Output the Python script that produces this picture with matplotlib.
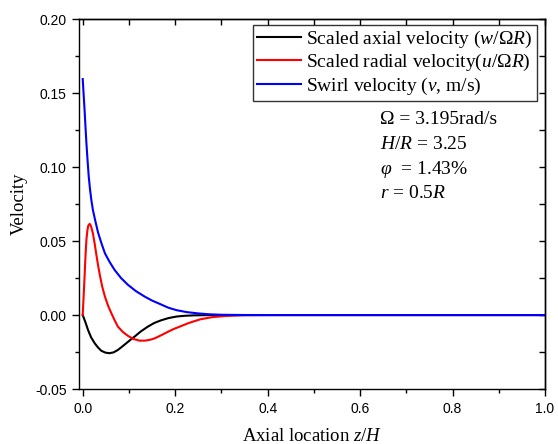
import matplotlib
matplotlib.use("Agg")
import matplotlib.pyplot as plt
from matplotlib.ticker import MultipleLocator, FuncFormatter, NullFormatter

# ---- data ----
z_axial = [0, 0.006, 0.0115, 0.018, 0.026, 0.033, 0.040, 0.049, 0.058, 0.067, 0.076,
           0.085, 0.094, 0.103, 0.112, 0.126, 0.141, 0.155, 0.170, 0.186, 0.203, 0.22,
           0.24, 0.27, 0.3, 0.4, 1.0]
v_axial = [0, -0.0050, -0.0101, -0.0150, -0.0191, -0.0219, -0.0241, -0.0254, -0.0258,
           -0.0252, -0.0236, -0.0214, -0.0191, -0.0168, -0.0146, -0.0110, -0.0078,
           -0.0053, -0.0035, -0.0020, -0.0010, -0.0005, -0.0002, -0.00005, 0, 0, 0]

z_radial = [0, 0.002, 0.004, 0.006, 0.008, 0.010, 0.012, 0.015, 0.018, 0.022, 0.026,
            0.029, 0.033, 0.037, 0.042, 0.048, 0.055, 0.062, 0.069, 0.076, 0.087, 0.098,
            0.110, 0.123, 0.135, 0.147, 0.156, 0.170, 0.185, 0.197, 0.21, 0.23, 0.254,
            0.28, 0.31, 0.35, 0.4, 1.0]
v_radial = [0, 0.013, 0.026, 0.040, 0.051, 0.057, 0.0605, 0.0617, 0.0600, 0.0553,
            0.0480, 0.0418, 0.0340, 0.0271, 0.0195, 0.0125, 0.0062, 0.0012, -0.0035,
            -0.0078, -0.0115, -0.0141, -0.0162, -0.0173, -0.0173, -0.0166, -0.0157,
            -0.0136, -0.0112, -0.0094, -0.0078, -0.0053, -0.0029, -0.0014, -0.0006,
            -0.0001, 0, 0]

z_swirl = [0, 0.002, 0.004, 0.006, 0.008, 0.0105, 0.013, 0.0158, 0.0186, 0.022, 0.027,
           0.033, 0.040, 0.048, 0.058, 0.069, 0.083, 0.098, 0.115, 0.134, 0.15, 0.167,
           0.185, 0.203, 0.225, 0.25, 0.275, 0.3, 0.35, 0.4, 1.0]
v_swirl = [0.1596, 0.1490, 0.1388, 0.1272, 0.1162, 0.1045, 0.0937, 0.0850, 0.0779,
           0.0711, 0.0640, 0.0560, 0.0490, 0.0418, 0.0360, 0.0305, 0.0250, 0.0204,
           0.0162, 0.0125, 0.0098, 0.0075, 0.0050, 0.0033, 0.0020, 0.0011, 0.0005,
           0.0002, 0.00003, 0, 0]

labels = [r"Scaled axial velocity ($w$/Ω$R$)",
          r"Scaled radial velocity($u$/Ω$R$)",
          r"Swirl velocity ($v$, m/s)"]
colors = ["black", "red", "blue"]
annotations = ["Ω = 3.195rad/s", r"$H$/$R$ = 3.25", r"$\varphi$  = 1.43%", r"$r$ = 0.5$R$"]
xticks = [0.0, 0.2, 0.4, 0.6, 0.8, 1.0]
yticks = [-0.05, 0.0, 0.05, 0.10, 0.15, 0.20]

plt.rcParams['font.family'] = ['Liberation Sans', 'DejaVu Sans']
plt.rcParams['mathtext.fontset'] = 'custom'
plt.rcParams['mathtext.rm'] = 'Liberation Serif'
plt.rcParams['mathtext.it'] = 'Liberation Serif:italic'
plt.rcParams['mathtext.bf'] = 'Liberation Serif:bold'
plt.rcParams['axes.unicode_minus'] = False

serif = ['Liberation Serif', 'DejaVu Serif']

W, H = 558, 444
fig = plt.figure(figsize=(W / 100, H / 100), dpi=100)
L, R, T, B = 79.3, 545, 19.3, 389
ax = fig.add_axes([L / W, 1 - B / H, (R - L) / W, (B - T) / H])

for zz, vv, c, lab in zip([z_axial, z_radial, z_swirl], [v_axial, v_radial, v_swirl], colors, labels):
    ax.plot(zz, vv, color=c, lw=1.5, label=lab)

ax.set_xlim(-0.0074, 1.0)
ax.set_ylim(-0.05, 0.20)
ax.set_xticks(xticks)
ax.set_yticks(yticks)
ax.xaxis.set_minor_locator(MultipleLocator(0.1))
ax.yaxis.set_minor_locator(MultipleLocator(0.025))
ax.xaxis.set_major_formatter(FuncFormatter(lambda v, p: f"{v:.1f}"))
ax.yaxis.set_major_formatter(FuncFormatter(lambda v, p: f"{v:.2f}"))
ax.tick_params(which='major', direction='out', length=5, width=1, labelsize=10, pad=4,
               top=False, right=False, colors='black')
ax.tick_params(which='minor', direction='out', length=3, width=1, top=False, right=False)
for s in ax.spines.values():
    s.set_linewidth(1.0)

# top and right inward ticks, no labels
secx = ax.secondary_xaxis('top')
secx.set_xticks([0.0, 0.1, 0.2, 0.3, 0.4, 0.5, 0.6, 0.7, 0.8, 0.9, 1.0])
secx.xaxis.set_major_formatter(NullFormatter())
secx.tick_params(direction='in', length=4, width=1)
secx.spines['top'].set_linewidth(1.0)
secy = ax.secondary_yaxis('right')
secy.set_yticks([-0.05, -0.025, 0.0, 0.025, 0.05, 0.075, 0.10, 0.125, 0.15, 0.175, 0.20])
secy.yaxis.set_major_formatter(NullFormatter())
secy.tick_params(direction='in', length=4, width=1)
secy.spines['right'].set_linewidth(1.0)

ax.set_xlabel(r"Axial location $z$/$H$", fontsize=13.5, family=serif, labelpad=9)
ax.set_ylabel("Velocity", fontsize=13.5, family=serif, labelpad=5)

leg = ax.legend(loc='upper right', bbox_to_anchor=(0.982, 0.985), borderaxespad=0,
                prop={'family': serif, 'size': 14}, frameon=True, fancybox=False,
                handlelength=2.3, handletextpad=0.26, labelspacing=0.12, borderpad=0.2)
leg.get_frame().set_edgecolor('black')
leg.get_frame().set_linewidth(1.0)

ys = [120, 144.5, 169, 193.5]
for txt, yy in zip(annotations, ys):
    ax.text((380 - L) / (R - L), (B - yy) / (B - T), txt, transform=ax.transAxes,
            fontsize=14, family=serif, ha='left', va='center')

fig.savefig("out.png", dpi=100)
